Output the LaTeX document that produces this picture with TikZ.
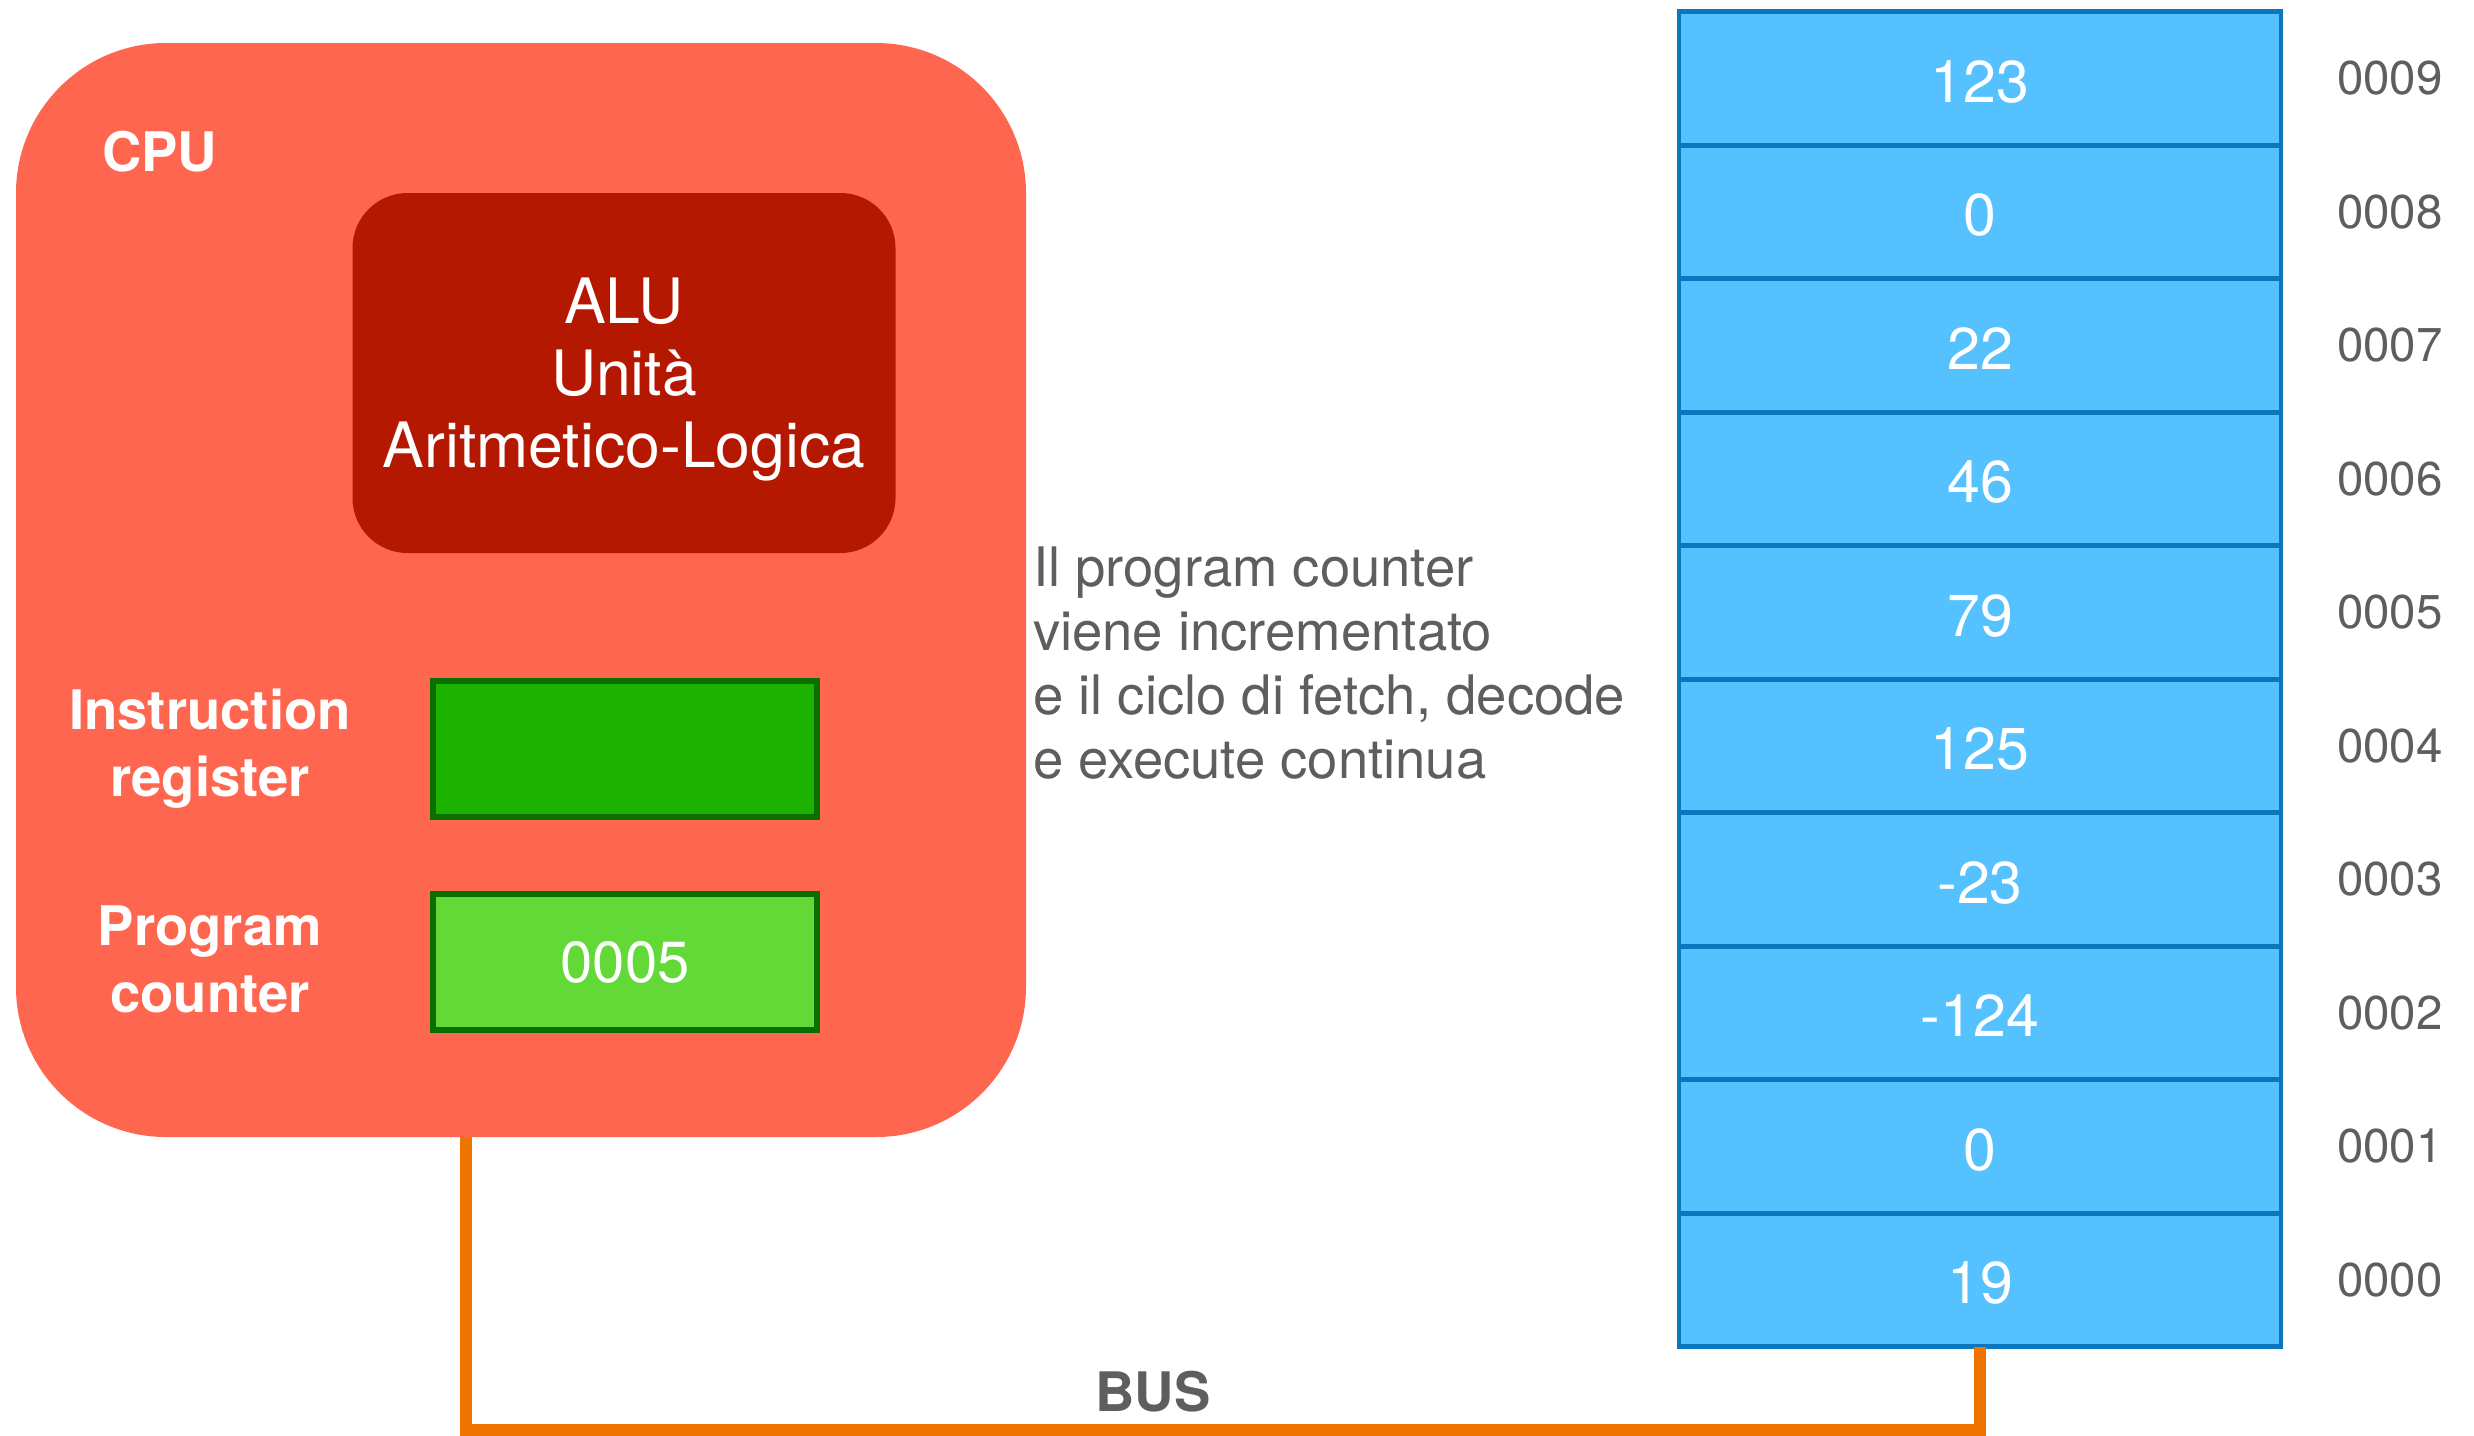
\documentclass[tikz,border=0pt]{standalone}
\usepackage{fontspec}
\setmainfont{TeX Gyre Heros}
\usetikzlibrary{positioning}
\definecolor{cpured}{HTML}{FF6650}
\definecolor{alured}{HTML}{B51800}
\definecolor{irgreen}{HTML}{1DB100}
\definecolor{pcgreen}{HTML}{63D938}
\definecolor{regborder}{HTML}{0A6E00}
\definecolor{memblue}{HTML}{56C1FF}
\definecolor{memborder}{HTML}{0A76BE}
\definecolor{busorange}{HTML}{EF7400}
\definecolor{textgray}{HTML}{5E5E5E}
\tikzset{
    cpubox/.style={rectangle, fill=cpured, rounded corners=15mm,
    minimum width=101mm, minimum height=109.4mm},
    alubox/.style={rectangle, fill=alured, rounded corners=5.5mm,
    minimum width=54.3mm, minimum height=36mm},
    alutxt/.style={text=white, align=center, font=\fontsize{17.8}{20.5}\selectfont},
    reg/.style={rectangle, draw=regborder, line width=1.5pt, text=white,
    minimum width=38.4mm, minimum height=13.6mm, font=\fontsize{16.5}{20}\selectfont},
    title/.style={text=white, inner sep=0pt, font=\fontsize{15.5}{19}\selectfont\bfseries},
    reglbl/.style={title, align=center, text width=30mm},
    cell/.style={rectangle, draw=memborder, fill=memblue, line width=1.3pt, text=white,
    minimum width=60.2mm, minimum height=13.35mm, text height=13.6pt, text depth=0pt,
    font=\fontsize{16.8}{20}\selectfont},
    addr/.style={text=textgray, inner sep=0pt, font=\fontsize{13.5}{16}\selectfont},
    note/.style={text=textgray, inner sep=0pt, align=left, font=\fontsize{15.5}{18.2}\selectfont},
    bus/.style={draw=busorange, line width=3.4pt}
}
\begin{document}
\begin{tikzpicture}[x=0.1mm,y=-0.1mm,outer sep=0pt]
    \useasboundingbox (0,0) rectangle (2474,1435);
    \node (cpu) [cpubox] at (521,590) {};
    \node (cpulbl) [title,anchor=west] at (102,152) {CPU};
    \node (alu) [alubox] at (624,373) {};
    \node (alutext) [alutxt] at ([yshift=-0.65mm]alu.center) {ALU\\Unità\\Aritmetico-Logica};
    \node (ir) [reg,fill=irgreen] at (625,749) {};
    \node (pc) [reg,fill=pcgreen] at (625,962) {0005};
    \node (irlbl) [reglbl,left=7.3mm of ir] {Instruction\\register};
    \node (pclbl) [reglbl,left=7.3mm of pc,yshift=0.3mm] {Program\\counter};
    \foreach \val [count=\i from 0] in {19,0,-124,-23,125,79,46,22,0,123} {
        \node (m\i) [cell] at (1980,1280-133.5*\i) {\val};
        \node (a\i) [addr,right=5.6mm of m\i] {000\i};
    }
    \node (note) [note,anchor=north west] at (1033,547)
        {Il program counter\\viene incrementato\\e il ciclo di fetch, decode\\e execute continua};
    \node (buslbl) [title,text=textgray] at (1153,1392) {BUS};
    \coordinate (busend) at ([yshift=-8.3mm]m0.south);
%    \draw[bus] (cpu.south) |- (busend) -- (m0.south);
    \draw[bus] ([xshift=-5.5mm]cpu.south) |- (busend) -- (m0.south);
\end{tikzpicture}
\end{document}
